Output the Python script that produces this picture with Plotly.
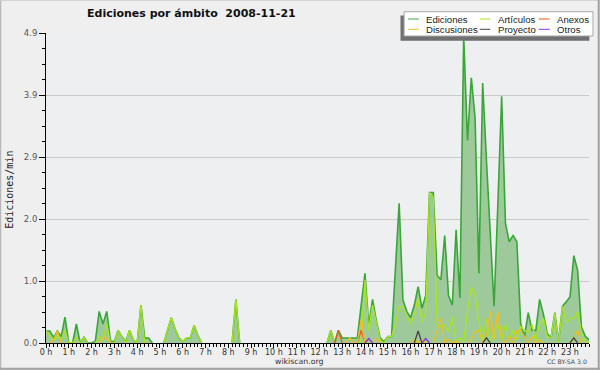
import plotly.graph_objects as go

# ---------------- data (10-minute steps, 0h00 .. 23h50) ----------------
hour_ticks = list(range(24))
hour_labels = [f"{h} h" for h in hour_ticks]
times = [i / 6 for i in range(144)]  # time of day in hours

y_tick_vals = [0, 0.98, 1.96, 2.94, 3.92, 4.9]
y_tick_text = ["0.0", "1.0", "2.0", "2.9", "3.9", "4.9"]

ediciones = [
    0.19, 0.19, 0.09, 0.19, 0.10, 0.41,   # 0h
    0, 0, 0.30, 0, 0.09, 0,               # 1h
    0, 0.03, 0.50, 0.30, 0.50, 0.03,      # 2h
    0.02, 0.20, 0.10, 0.02, 0.20, 0.05,   # 3h
    0, 0.60, 0.08, 0.08, 0, 0,            # 4h
    0, 0, 0.20, 0.40, 0.22, 0.08,         # 5h
    0.02, 0.08, 0.08, 0.28, 0.12, 0,      # 6h
    0, 0, 0, 0, 0, 0,                     # 7h
    0, 0, 0.69, 0, 0, 0,                  # 8h
    0, 0, 0, 0, 0, 0,                     # 9h
    0, 0, 0, 0, 0, 0,                     # 10h
    0, 0, 0, 0, 0, 0,                     # 11h
    0, 0, 0, 0.20, 0, 0.20,               # 12h
    0.08, 0.08, 0.08, 0.08, 0.08, 0.60,   # 13h
    1.10, 0.28, 0.69, 0.35, 0.08, 0.02,   # 14h
    0.10, 0.10, 1.10, 2.21, 0.68, 0.50,   # 15h
    0.40, 0.60, 0.89, 0.55, 0.75, 2.38,   # 16h
    2.38, 1.07, 1.00, 1.70, 0.75, 0.60,   # 17h
    1.79, 0.71, 4.85, 3.20, 4.19, 3.56,   # 18h
    1.10, 4.11, 2.88, 1.80, 0.58, 2.20,   # 19h
    3.90, 1.89, 1.60, 1.70, 1.60, 0.31,   # 20h
    0.10, 0.48, 0.20, 0.20, 0.69, 0.45,   # 21h
    0.15, 0.08, 0.48, 0.02, 0.58, 0.65,   # 22h
    0.73, 1.38, 1.15, 0.25, 0.11, 0.05,   # 23h
]

articulos = [
    0.19, 0.12, 0.05, 0.10, 0.05, 0.20,
    0, 0, 0.09, 0, 0.09, 0,
    0, 0, 0.10, 0.05, 0.30, 0,
    0, 0.20, 0.10, 0, 0.20, 0.05,
    0, 0.60, 0, 0, 0, 0,
    0, 0, 0.20, 0.40, 0.22, 0.08,
    0.02, 0.08, 0.08, 0.28, 0.12, 0,
    0, 0, 0, 0, 0, 0,
    0, 0, 0.69, 0, 0, 0,
    0, 0, 0, 0, 0, 0,
    0, 0, 0, 0, 0, 0,
    0, 0, 0, 0, 0, 0,
    0, 0, 0, 0.20, 0, 0,
    0, 0, 0, 0, 0, 0.05,
    1.00, 0.20, 0.60, 0.30, 0.05, 0,
    0.10, 0.10, 0.30, 0.57, 0.57, 0.45,
    0.30, 0.45, 0.70, 0.33, 0.47, 2.38,
    2.30, 0.30, 0.26, 0.28, 0.18, 0.40,
    0.02, 0.08, 0.02, 0.50, 0.88, 0.75,
    0.34, 0.05, 0.39, 0.03, 0.18, 0.29,
    0.05, 0.29, 0.05, 0.20, 0.05, 0.26,
    0.20, 0.17, 0.29, 0.03, 0.30, 0.39,
    0.10, 0.08, 0.47, 0, 0.58, 0.31,
    0.39, 0.39, 0.49, 0.18, 0.02, 0,
]

anexos = [0] * 144
anexos[77] = 0.20
anexos[83] = 0.20

discusiones = [
    0, 0, 0.05, 0.19, 0, 0,
    0, 0, 0, 0, 0, 0,
    0, 0, 0, 0.08, 0.08, 0,
    0, 0, 0, 0, 0, 0,
    0, 0, 0, 0, 0, 0,
    0, 0, 0, 0, 0, 0,
    0, 0, 0, 0, 0, 0,
    0, 0, 0, 0, 0, 0,
    0, 0, 0, 0, 0, 0,
    0, 0, 0, 0, 0, 0,
    0, 0, 0, 0, 0, 0,
    0, 0, 0, 0, 0, 0,
    0, 0, 0, 0, 0, 0,
    0, 0, 0.08, 0, 0, 0.37,
    0, 0, 0, 0.07, 0, 0,
    0, 0, 0, 0, 0, 0,
    0, 0.05, 0, 0.05, 0, 0,
    0, 0.18, 0.39, 0, 0.05, 0,
    0.03, 0, 0, 0, 0.05, 0.18,
    0.20, 0, 0.10, 0.50, 0.05, 0.50,
    0.05, 0, 0.10, 0, 0.20, 0.20,
    0.10, 0, 0.10, 0, 0.05, 0,
    0, 0, 0, 0, 0, 0,
    0, 0.05, 0.20, 0, 0, 0,
]

proyecto = [0] * 144
proyecto[98] = 0.19
proyecto[116] = 0.08
proyecto[139] = 0.08

otros = [0] * 144
otros[85] = 0.07
otros[100] = 0.07

series = [
    ("Ediciones", ediciones, "#3aa63a"),
    ("Artículos", articulos, "#a8e61c"),
    ("Anexos", anexos, "#ee5a14"),
    ("Discusiones", discusiones, "#f0be1e"),
    ("Proyecto", proyecto, "#444444"),
    ("Otros", otros, "#8a32e6"),
]


def hide_flat_zero(vals):
    """Lines lying on the zero baseline are hidden under the axis (as in the original)."""
    out = []
    n = len(vals)
    for i, v in enumerate(vals):
        prev_v = vals[i - 1] if i > 0 else 0
        next_v = vals[i + 1] if i < n - 1 else 0
        out.append(v if (v or prev_v or next_v) else None)
    return out


# ---------------- figure ----------------
W, H = 600, 370
L, R, T, B = 46, 589.3, 33, 343.3
PW, PH = R - L, B - T


def xp(px):
    return (px - L) / PW


def yp(py):
    return (B - py) / PH


fig = go.Figure()

for k, (name, vals, col) in enumerate(series):
    fig.add_trace(go.Scatter(
        x=times, y=hide_flat_zero(vals), name=name, mode="lines",
        line=dict(color=col, width=1.6 if k == 0 else 1.3),
        fill="tozeroy" if k == 0 else None,
        fillcolor="#9ec99b" if k == 0 else None,
        connectgaps=False,
        showlegend=False, hoverinfo="skip",
    ))

minor_x = [i / 6 for i in range(144)]
minor_y = [j * 0.245 for j in range(21)]

fig.update_layout(
    width=W, height=H,
    margin=dict(l=L, r=W - R, t=T, b=H - B, pad=0),
    paper_bgcolor="#efefef",
    plot_bgcolor="#eeeff1",
    showlegend=False,
    font=dict(family="DejaVu Sans", size=9, color="#444"),
    xaxis=dict(
        range=[0, 143 / 6], tickmode="array", tickvals=hour_ticks, ticktext=hour_labels,
        showgrid=False, zeroline=False, showline=True, linecolor="black", linewidth=1,
        ticks="outside", ticklen=4, tickcolor="black", tickwidth=1,
        tickfont=dict(family="DejaVu Sans", size=8, color="#333"),
        ticklabelstandoff=-3,
        minor=dict(tickmode="array", tickvals=minor_x, ticks="outside", ticklen=3,
                   tickcolor="black", tickwidth=1, showgrid=False),
        fixedrange=True,
    ),
    yaxis=dict(
        range=[0, 4.9], tickmode="array", tickvals=y_tick_vals, ticktext=y_tick_text,
        showgrid=True, gridcolor="#cacaca", gridwidth=1, zeroline=False,
        showline=True, linecolor="black", linewidth=1,
        ticks="outside", ticklen=6, tickcolor="black", tickwidth=1,
        tickfont=dict(family="DejaVu Sans", size=8.5, color="#555"),
        minor=dict(tickmode="array", tickvals=minor_y, ticks="outside", ticklen=3,
                   tickcolor="black", tickwidth=1, showgrid=False),
        fixedrange=True,
    ),
)

shapes = []
annotations = []

# outer frame (3D style)
shapes.append(dict(type="line", xref="paper", yref="paper", x0=xp(0.5), x1=xp(599.5), y0=yp(0.5), y1=yp(0.5),
                   line=dict(color="#d4d4d4", width=1)))
shapes.append(dict(type="line", xref="paper", yref="paper", x0=xp(0.5), x1=xp(0.5), y0=yp(0.5), y1=yp(369.5),
                   line=dict(color="#b8b8b8", width=1.5)))
shapes.append(dict(type="line", xref="paper", yref="paper", x0=xp(0), x1=xp(600), y0=yp(369), y1=yp(369),
                   line=dict(color="#a0a0a0", width=2)))
shapes.append(dict(type="line", xref="paper", yref="paper", x0=xp(599), x1=xp(599), y0=yp(0), y1=yp(370),
                   line=dict(color="#a0a0a0", width=2)))

# custom legend: shadow + box
shapes.append(dict(type="rect", xref="paper", yref="paper", x0=xp(400.7), x1=xp(589.7), y0=yp(40.7), y1=yp(15.5),
                   fillcolor="#707070", line=dict(width=0), layer="above"))
shapes.append(dict(type="rect", xref="paper", yref="paper", x0=xp(404.3), x1=xp(593.3), y0=yp(36), y1=yp(11.7),
                   fillcolor="#ffffff", line=dict(color="#a8a8a8", width=1), layer="above"))

legend_cols = [(408.3, 419, 424), (480, 490.5, 496), (539, 550, 555.7)]
legend_rows = [19, 29.3]
for k, (name, vals, col) in enumerate(series):
    r, c = divmod(k, 3)
    lx0, lx1, tx = legend_cols[c]
    ty = legend_rows[r]
    shapes.append(dict(type="line", xref="paper", yref="paper", x0=xp(lx0), x1=xp(lx1), y0=yp(ty), y1=yp(ty),
                       line=dict(color=col, width=1), layer="above"))
    annotations.append(dict(xref="paper", yref="paper", x=xp(tx), y=yp(ty), text=name, showarrow=False,
                            xanchor="left", yanchor="middle",
                            font=dict(family="Liberation Sans", size=9.6, color="#222")))

# title
annotations.append(dict(xref="paper", yref="paper", x=xp(85), y=yp(13), text="<b>Ediciones por ámbito  2008-11-21</b>",
                        showarrow=False, xanchor="left", yanchor="middle",
                        font=dict(family="DejaVu Sans", size=11, color="#111")))
# y axis title
annotations.append(dict(xref="paper", yref="paper", x=xp(10), y=yp(190), text="Ediciones/min", textangle=-90,
                        showarrow=False, xanchor="center", yanchor="middle",
                        font=dict(family="DejaVu Sans Mono", size=10, color="#222")))
# footer
annotations.append(dict(xref="paper", yref="paper", x=xp(300), y=yp(361.5), text="wikiscan.org",
                        showarrow=False, xanchor="center", yanchor="middle",
                        font=dict(family="DejaVu Sans", size=7.8, color="#333")))
annotations.append(dict(xref="paper", yref="paper", x=xp(589.5), y=yp(362.3), text="CC BY-SA 3.0",
                        showarrow=False, xanchor="right", yanchor="middle",
                        font=dict(family="DejaVu Sans", size=6.2, color="#444")))

fig.update_layout(shapes=shapes, annotations=annotations)

fig.write_html("out.html", config={"displayModeBar": False},
               post_script="document.body.style.margin='0';document.body.style.padding='0';")
